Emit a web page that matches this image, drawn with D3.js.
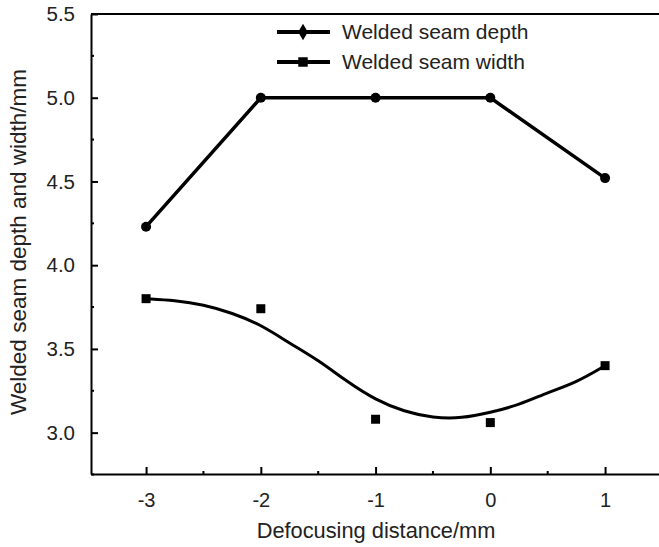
<!DOCTYPE html>
<html>
<head>
<meta charset="utf-8">
<script src="https://cdn.jsdelivr.net/npm/d3@7"></script>
<style>
  body { margin: 0; background: #fff; }
  svg text { font-family: "Liberation Sans", Arial, sans-serif; fill: #222; }
</style>
</head>
<body>
<svg id="chart" width="659" height="547"></svg>
<script>
// defocus distance (mm)
var distance = [-3, -2, -1, 0, 1];
// measured values
var seamDepth = [4.23, 5.0, 5.0, 5.0, 4.52];
var seamWidth = [3.80, 3.74, 3.08, 3.06, 3.40];
// smoothed trend line for width
var widthFitX = [-3, -2.75, -2.5, -2.25, -2, -1.75, -1.5, -1.25, -1, -0.75, -0.5, -0.25, 0, 0.25, 0.5, 0.75, 1];
var widthFitY = [3.80, 3.79, 3.765, 3.715, 3.645, 3.534, 3.434, 3.305, 3.195, 3.125, 3.088, 3.085, 3.12, 3.165, 3.24, 3.30, 3.40];
var xTicks = [-3, -2, -1, 0, 1];
var xMinor = [-2.5, -1.5, -0.5, 0.5];
var yTicks = [3.0, 3.5, 4.0, 4.5, 5.0, 5.5];
var yMinor = [2.75, 3.25, 3.75, 4.25, 4.75, 5.25];
var legendNames = ["Welded seam depth", "Welded seam width"];

function drawChart() {
  var svg = d3.select("#chart");
  var mLeft = 91, mRight = 659, mTop = 14, mBottom = 474;

  var x = d3.scaleLinear().domain([-3.48, 1.47]).range([mLeft, mRight]);
  var y = d3.scaleLinear().domain([2.753, 5.5]).range([mBottom, mTop]);

  // x axis, ticks pointing inward
  var xAxis = svg.append("g")
      .attr("transform", "translate(0," + mBottom + ")")
      .call(d3.axisBottom(x).tickValues(xTicks).tickSizeInner(-7).tickSizeOuter(0)
        .tickPadding(24).tickFormat(function(d) { return String(d); }));
  xAxis.select(".domain").attr("stroke-width", 2);
  xAxis.selectAll(".tick line").attr("stroke-width", 2);
  xAxis.selectAll(".tick text").attr("font-size", 20).attr("dy", "0.45em");

  svg.append("g").selectAll("line").data(xMinor).enter().append("line")
      .attr("x1", function(d) { return x(d); }).attr("x2", function(d) { return x(d); })
      .attr("y1", mBottom).attr("y2", mBottom - 3)
      .attr("stroke", "#000").attr("stroke-width", 2);

  // y axis
  var yAxis = svg.append("g")
      .attr("transform", "translate(" + mLeft + ",0)")
      .call(d3.axisLeft(y).tickValues(yTicks).tickSizeInner(-7).tickSizeOuter(0)
        .tickPadding(16).tickFormat(d3.format(".1f")));
  yAxis.select(".domain").attr("stroke-width", 2);
  yAxis.selectAll(".tick line").attr("stroke-width", 2);
  yAxis.selectAll(".tick text").attr("font-size", 20.5);

  svg.append("g").selectAll("line").data(yMinor).enter().append("line")
      .attr("x1", mLeft).attr("x2", mLeft + 3)
      .attr("y1", function(d) { return y(d); }).attr("y2", function(d) { return y(d); })
      .attr("stroke", "#000").attr("stroke-width", 2);

  // top frame line
  svg.append("line")
      .attr("x1", mLeft).attr("x2", mRight).attr("y1", mTop).attr("y2", mTop)
      .attr("stroke", "#000").attr("stroke-width", 2);

  // axis titles
  svg.append("text")
      .attr("x", 376).attr("y", 538)
      .attr("text-anchor", "middle").attr("font-size", 21.8)
      .text("Defocusing distance/mm");

  svg.append("text")
      .attr("transform", "translate(26,242) rotate(-90)")
      .attr("text-anchor", "middle").attr("font-size", 22.5)
      .text("Welded seam depth and width/mm");

  // depth series
  var depthLine = d3.line()
      .x(function(d, i) { return x(distance[i]); })
      .y(function(d) { return y(d); });

  svg.append("path")
      .datum(seamDepth)
      .attr("d", depthLine)
      .attr("fill", "none").attr("stroke", "#000").attr("stroke-width", 3.5)
      .attr("stroke-linejoin", "round");

  svg.append("g").selectAll("circle").data(seamDepth).enter().append("circle")
      .attr("cx", function(d, i) { return x(distance[i]); })
      .attr("cy", function(d) { return y(d); })
      .attr("r", 5)
      .attr("fill", "#000");

  // width trend curve
  var fitLine = d3.line()
      .x(function(d, i) { return x(widthFitX[i]); })
      .y(function(d) { return y(d); })
      .curve(d3.curveBasis);

  svg.append("path")
      .datum(widthFitY)
      .attr("d", fitLine)
      .attr("fill", "none").attr("stroke", "#000").attr("stroke-width", 3);

  svg.append("g").selectAll("path").data(seamWidth).enter().append("path")
      .attr("d", d3.symbol().type(d3.symbolSquare).size(81))
      .attr("transform", function(d, i) { return "translate(" + x(distance[i]) + "," + y(d) + ")"; })
      .attr("fill", "#000");

  // legend
  var legend = svg.append("g");
  legendNames.forEach(function(name, i) {
    var ly = 32 + i * 30;
    legend.append("line")
        .attr("x1", 277).attr("x2", 330).attr("y1", ly).attr("y2", ly)
        .attr("stroke", "#000").attr("stroke-width", 4);
    legend.append("path")
        .attr("d", d3.symbol().type(i == 0 ? d3.symbolDiamond : d3.symbolSquare).size(i == 0 ? 80 : 90))
        .attr("transform", "translate(303," + ly + ")")
        .attr("fill", "#000");
    legend.append("text")
        .attr("x", 342).attr("y", ly + 7)
        .attr("font-size", 21)
        .text(name);
  });
}

drawChart();
</script>
</body>
</html>
